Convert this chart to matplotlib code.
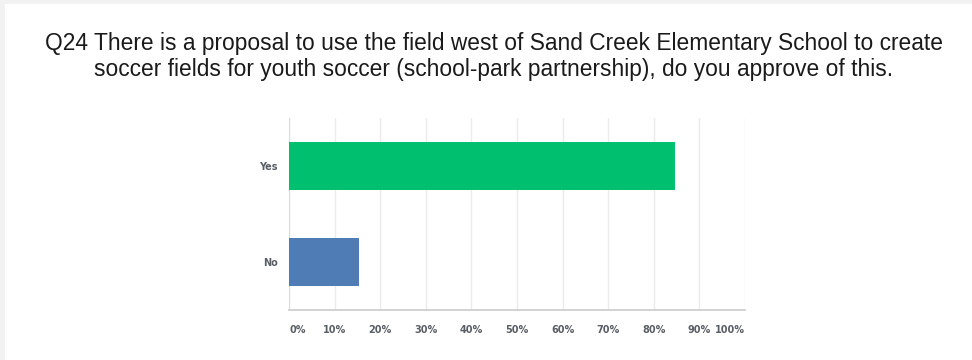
import matplotlib.pyplot as plt
import matplotlib.patches as patches

title = ("Q24 There is a proposal to use the field west of Sand Creek Elementary School to create\n"
         "soccer fields for youth soccer (school-park partnership), do you approve of this.")
categories = ["Yes", "No"]
percents = [84.6, 15.4]
bar_colors = ["#00BF6F", "#507CB6"]
xticks = [0, 10, 20, 30, 40, 50, 60, 70, 80, 90, 100]
xtick_labels = ["0%", "10%", "20%", "30%", "40%", "50%", "60%", "70%", "80%", "90%", "100%"]

fig = plt.figure(figsize=(9.72, 3.6), dpi=100)
fig.patch.set_facecolor("#f2f2f2")
# white panel inside a thin gray frame
panel = patches.Rectangle((5 / 972, 0), 1, 356 / 360, transform=fig.transFigure,
                          fc="white", ec="none", zorder=-10)
fig.patches.append(panel)

fig.text(494 / 972, 1 - 56.5 / 360, title, ha="center", va="center",
         fontsize=16.4, family="Liberation Sans", color="#1a1a1a", linespacing=1.2)

ax = fig.add_axes([289 / 972, 50 / 360, 456 / 972, 192 / 360])
ax.set_facecolor("none")
ypos = list(range(len(categories)))
ax.barh(ypos, percents, height=0.5, color=bar_colors, zorder=3)

ax.set_xlim(0, 100)
ax.set_ylim(1.5, -0.5)
ax.set_yticks(ypos)
ax.set_yticklabels(categories)
ax.set_xticks(xticks)
ax.set_xticklabels(xtick_labels)
for i, lab in enumerate(ax.get_xticklabels()):
    if i == 0:
        lab.set_ha("left")
    elif i == len(xticks) - 1:
        lab.set_ha("right")

ax.grid(axis="x", color="#ebebeb", lw=1, zorder=0)
ax.tick_params(axis="both", length=0, labelsize=7, labelcolor="#5a5f66")
ax.tick_params(axis="x", pad=11)
ax.tick_params(axis="y", pad=8)
for lab in ax.get_xticklabels() + ax.get_yticklabels():
    lab.set_fontweight("semibold")

for side in ["top", "right"]:
    ax.spines[side].set_visible(False)
ax.spines["left"].set_color("#dcdcdc")
ax.spines["bottom"].set_color("#cfcfcf")
ax.spines["bottom"].set_linewidth(1.3)

fig.savefig("out.png", dpi=100)
